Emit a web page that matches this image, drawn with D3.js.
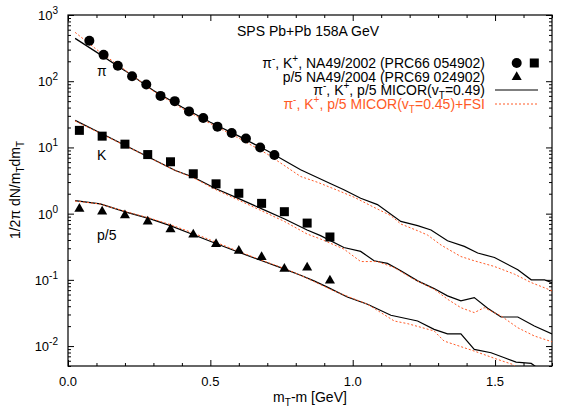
<!DOCTYPE html>
<html><head><meta charset="utf-8">
<script src="https://cdn.jsdelivr.net/npm/d3@7"></script>
<style>body{margin:0;background:#fff}svg{display:block;font-family:"Liberation Sans",Arial,Helvetica,sans-serif}</style>
</head><body>
<svg id="c" width="586" height="409"></svg>
<script>
// ---- data ----
const piX = [0.075,0.125,0.175,0.225,0.275,0.325,0.375,0.425,0.475,0.525,0.575,0.625,0.675,0.725];
const piY = [408,250,171,119,89,60,50,35,27.8,20.6,16.5,13.6,10,7.7];
const kX = [0.04,0.12,0.2,0.28,0.36,0.44,0.52,0.6,0.68,0.76,0.84,0.92];
const kY = [18.1,14.8,11.2,7.8,6.07,4.0,2.82,2.03,1.43,1.07,0.72,0.444];
const pX = [0.04,0.12,0.2,0.28,0.36,0.44,0.52,0.6,0.68,0.76,0.84,0.92];
const pY = [1.22,1.11,0.975,0.783,0.598,0.498,0.36,0.285,0.229,0.152,0.159,0.101];

const piSolidX = [0.025,0.1,0.2,0.3,0.4,0.5,0.6,0.7,0.817,0.923,0.969,1.028,1.087,1.169,1.228,1.275,1.333,1.392,1.439,1.498,1.58,1.627,1.674,1.7];
const piSolidY = [443.6,275,144.5,72.4,40.7,24,14.8,8.9,4.59,2.82,2.29,1.71,1.37,0.764,0.658,0.566,0.39,0.32,0.254,0.218,0.142,0.1,0.1,0.091];
const piFsiX = [0.025,0.1,0.2,0.3,0.4,0.5,0.6,0.7,0.817,0.876,0.934,1.005,1.075,1.134,1.169,1.228,1.263,1.31,1.38,1.427,1.498,1.568,1.627,1.686,1.7];
const piFsiY = [547,302,148,70.8,38.9,22.9,13.8,7.94,3.64,2.98,2.37,1.77,1.245,0.933,0.698,0.552,0.475,0.336,0.225,0.194,0.159,0.122,0.091,0.0723,0.068];

const kSolidX = [0.025,0.1,0.2,0.3,0.377,0.441,0.52,0.602,0.681,0.761,0.84,0.887,0.969,1.028,1.075,1.122,1.169,1.228,1.286,1.333,1.38,1.427,1.474,1.521,1.58,1.638,1.7];
const kSolidY = [25.6,17.7,10.8,6.58,4.49,3.55,2.37,1.67,1.18,0.832,0.566,0.465,0.308,0.269,0.194,0.177,0.137,0.0966,0.0738,0.0573,0.0481,0.054,0.0372,0.0275,0.0275,0.0201,0.0153];
const kFsiX = [0.025,0.2,0.377,0.441,0.52,0.602,0.681,0.761,0.84,0.887,0.969,1.028,1.087,1.146,1.204,1.286,1.333,1.38,1.427,1.462,1.521,1.58,1.638,1.7];
const kFsiY = [25.1,10.7,4.47,3.47,2.29,1.58,1.10,0.759,0.492,0.414,0.292,0.189,0.189,0.153,0.108,0.0723,0.051,0.038,0.032,0.038,0.0285,0.0189,0.0142,0.0116];

const pSolidX = [0.025,0.113,0.207,0.289,0.359,0.441,0.524,0.602,0.681,0.761,0.817,0.864,0.911,0.981,1.052,1.134,1.228,1.286,1.333,1.38,1.427,1.486,1.533,1.574,1.627,1.644,1.66];
const pSolidY = [1.574,1.403,1.047,0.832,0.658,0.481,0.348,0.259,0.194,0.145,0.1175,0.0966,0.0776,0.0552,0.0429,0.0292,0.0239,0.0179,0.0153,0.0153,0.0089,0.00793,0.00665,0.00573,0.00547,0.00485,0.0042];
const pFsiX = [0.025,0.113,0.207,0.289,0.359,0.441,0.524,0.602,0.681,0.761,0.817,0.934,1.052,1.146,1.193,1.286,1.321,1.427,1.509,1.562,1.6];
const pFsiY = [1.55,1.40,1.06,0.851,0.684,0.507,0.363,0.266,0.197,0.148,0.1175,0.068,0.0429,0.0239,0.0218,0.0169,0.0119,0.0084,0.00628,0.00528,0.00398];

const xMajor = [0,0.5,1.0,1.5];
const xTickLabels = ["0.0","0.5","1.0","1.5"];
const yExponents = [-2,-1,0,1,2,3];

// ---- drawing ----
const ORANGE = "#ff5a26";
const svg = d3.select("#c");
const L=68,R=552,T=15,B=366;
const x = d3.scaleLinear().domain([0,1.7]).range([L,R]);
const y = d3.scaleLog().domain([0.005,1000]).range([B,T]);

const xMinor = d3.range(0,1.7001,0.1).map(v=>+v.toFixed(2)).filter(v=>!xMajor.some(m=>Math.abs(m-v)<1e-6));
const yMajor = yExponents.map(e=>Math.pow(10,e));
const yMinor = [];
for (let e=-3;e<=2;e++) for (let k=2;k<=9;k++){const v=k*Math.pow(10,e); if(v>=0.005&&v<=1000) yMinor.push(v);}

function ax(gen, tx, ty, vals, size){
  const g = svg.append("g").attr("transform",`translate(${tx},${ty})`)
    .call(gen.tickValues(vals).tickSize(-size).tickFormat(""));
  g.select(".domain").remove();
  g.selectAll("line").attr("stroke","#000").attr("stroke-width",1);
}
ax(d3.axisBottom(x),0,B,xMajor,6); ax(d3.axisBottom(x),0,B,xMinor,3);
ax(d3.axisTop(x),0,T,xMajor,6);    ax(d3.axisTop(x),0,T,xMinor,3);
ax(d3.axisLeft(y),L,0,yMajor,6);   ax(d3.axisLeft(y),L,0,yMinor,3);
ax(d3.axisRight(y),R,0,yMajor,6);  ax(d3.axisRight(y),R,0,yMinor,3);

svg.append("rect").attr("x",L).attr("y",T).attr("width",R-L).attr("height",B-T)
  .attr("fill","none").attr("stroke","#000").attr("stroke-width",1.2);

// tick labels
svg.append("g").selectAll("text").data(xMajor).join("text")
  .attr("x",d=>x(d)).attr("y",386).attr("text-anchor","middle")
  .attr("font-size",13).text((d,i)=>xTickLabels[i]);
const yl = svg.append("g").selectAll("text").data(yExponents).join("text")
  .attr("x",58).attr("y",e=>y(Math.pow(10,e))+5).attr("text-anchor","end").attr("font-size",13);
yl.append("tspan").text("10");
yl.append("tspan").attr("dy",-6).attr("font-size",10).text(e=>String(e).replace("-","-"));

// axis titles
const xt = svg.append("text").attr("x",310).attr("y",402).attr("text-anchor","middle").attr("font-size",14);
xt.append("tspan").text("m");
xt.append("tspan").attr("dy",4).attr("font-size",10).text("T");
xt.append("tspan").attr("dy",-4).text("-m [GeV]");
const yt = svg.append("text").attr("transform","translate(20,190) rotate(-90)").attr("text-anchor","middle").attr("font-size",14);
yt.append("tspan").text("1/2\u03c0 dN/m");
yt.append("tspan").attr("dy",4).attr("font-size",10).text("T");
yt.append("tspan").attr("dy",-4).text("dm");
yt.append("tspan").attr("dy",4).attr("font-size",10).text("T");

// curves
svg.append("clipPath").attr("id","clip").append("rect").attr("x",L).attr("y",T).attr("width",R-L).attr("height",B-T);
const line = d3.line().x(d=>x(d[0])).y(d=>y(d[1]));
const curves = [
  [piSolidX,piSolidY,false],[kSolidX,kSolidY,false],[pSolidX,pSolidY,false],
  [piFsiX,piFsiY,true],[kFsiX,kFsiY,true],[pFsiX,pFsiY,true]
];
const cg = svg.append("g").attr("clip-path","url(#clip)");
curves.forEach(([xs,ys,fsi])=>{
  cg.append("path").attr("d",line(xs.map((v,i)=>[v,ys[i]])))
    .attr("fill","none").attr("stroke",fsi?ORANGE:"#000")
    .attr("stroke-width",fsi?1:1.2).attr("stroke-dasharray",fsi?"2,2":null);
});

// markers
svg.append("g").selectAll("circle").data(piX.map((v,i)=>[v,piY[i]])).join("circle")
  .attr("cx",d=>x(d[0])).attr("cy",d=>y(d[1])).attr("r",5).attr("fill","#000");
svg.append("g").selectAll("rect").data(kX.map((v,i)=>[v,kY[i]])).join("rect")
  .attr("x",d=>x(d[0])-4.5).attr("y",d=>y(d[1])-4.5).attr("width",9).attr("height",9).attr("fill","#000");
const tri = d3.symbol().type(d3.symbolTriangle).size(44);
svg.append("g").selectAll("path").data(pX.map((v,i)=>[v,pY[i]])).join("path")
  .attr("transform",d=>`translate(${x(d[0])},${y(d[1])+1})`).attr("d",tri()).attr("fill","#000");

// curve labels
svg.append("text").attr("x",97).attr("y",76).attr("font-size",14).text("\u03c0");
svg.append("text").attr("x",97).attr("y",160).attr("font-size",14).text("K");
svg.append("text").attr("x",97).attr("y",240).attr("font-size",14).text("p/5");

// title
svg.append("text").attr("x",237).attr("y",36).attr("font-size",14).text("SPS Pb+Pb 158A GeV");

// legend
function sup(t, s){ t.append("tspan").attr("dy",-6).attr("font-size",10).text(s); t.append("tspan").attr("dy",6).text(""); }
const LX = 485;
let t1 = svg.append("text").attr("x",LX).attr("y",68).attr("text-anchor","end").attr("font-size",14);
t1.append("tspan").text("\u03c0"); t1.append("tspan").attr("dy",-6).attr("font-size",10).text("-");
t1.append("tspan").attr("dy",6).text(", K"); t1.append("tspan").attr("dy",-6).attr("font-size",10).text("+");
t1.append("tspan").attr("dy",6).text(", NA49/2002 (PRC66 054902)");
svg.append("text").attr("x",LX).attr("y",81.5).attr("text-anchor","end").attr("font-size",14).text("p/5 NA49/2004 (PRC69 024902)");
function modelText(yy, col, tail){
  const t = svg.append("text").attr("x",LX).attr("y",yy).attr("text-anchor","end").attr("font-size",14).attr("fill",col);
  t.append("tspan").text("\u03c0"); t.append("tspan").attr("dy",-6).attr("font-size",10).text("-");
  t.append("tspan").attr("dy",6).text(", K"); t.append("tspan").attr("dy",-6).attr("font-size",10).text("+");
  t.append("tspan").attr("dy",6).text(", p/5 MICOR(v");
  t.append("tspan").attr("dy",4).attr("font-size",10).text("T");
  t.append("tspan").attr("dy",-4).text(tail);
}
modelText(95,"#000","=0.49)");
modelText(108.5,ORANGE,"=0.45)+FSI");
svg.append("circle").attr("cx",516.7).attr("cy",63).attr("r",5).attr("fill","#000");
svg.append("rect").attr("x",534.3-4.5).attr("y",63-4.5).attr("width",9).attr("height",9).attr("fill","#000");
svg.append("path").attr("transform","translate(516.7,77)").attr("d",tri()).attr("fill","#000");
svg.append("line").attr("x1",495).attr("x2",538).attr("y1",90).attr("y2",90).attr("stroke","#000").attr("stroke-width",1.2);
svg.append("line").attr("x1",495).attr("x2",538).attr("y1",104).attr("y2",104).attr("stroke",ORANGE).attr("stroke-width",1).attr("stroke-dasharray","2,2");
</script>
</body></html>
